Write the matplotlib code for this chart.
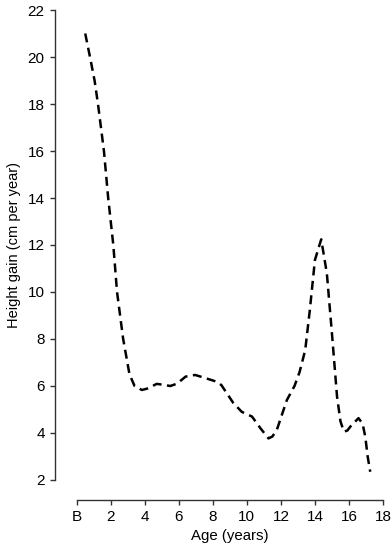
import matplotlib
matplotlib.use("Agg")
import matplotlib.pyplot as plt

plt.rcParams['font.family'] = ['Liberation Sans', 'DejaVu Sans']

# Height velocity curve
age = [0.5, 0.78, 1.05, 1.25, 1.6, 1.85, 2.15, 2.37, 2.73, 3.1, 3.4, 3.83,
       4.2, 4.7, 5.1, 5.5, 5.9, 6.4, 6.96, 7.5, 8.24, 8.5, 9.2, 9.7, 10.3,
       10.8, 11.27, 11.5, 11.76, 12.35, 12.8, 13.1, 13.43, 13.7, 14.0, 14.37,
       14.7, 15.0, 15.3, 15.5, 15.7, 15.9, 16.08, 16.56, 16.8, 16.96, 17.1, 17.25]
gain = [21.0, 20.0, 19.0, 18.0, 16.0, 14.0, 12.0, 10.0, 8.0, 6.5, 6.0, 5.83,
        5.9, 6.09, 6.05, 6.0, 6.1, 6.4, 6.47, 6.35, 6.18, 6.04, 5.28, 4.9, 4.7,
        4.2, 3.77, 3.85, 4.13, 5.4, 6.0, 6.6, 7.53, 9.23, 11.36, 12.24,
        10.8, 8.24, 5.55, 4.5, 4.06, 4.1, 4.27, 4.63, 4.4, 3.84, 3.0, 2.35]

xticks = list(range(0, 19, 2))
xticklabels = ["B"] + [str(v) for v in xticks[1:]]
yticks = list(range(2, 23, 2))

fig = plt.figure(figsize=(3.92, 5.5), dpi=100)
ax = fig.add_axes([0.1957, 0.1273, 0.7813, 0.8545])

ax.plot(age, gain, color="black", lw=1.8, dashes=(3.6, 2.2))

ax.set_xlim(0, 18)
ax.set_ylim(2, 22)
ax.set_xticks(xticks)
ax.set_xticklabels(xticklabels)
ax.set_yticks(yticks)

for side in ("top", "right"):
    ax.spines[side].set_visible(False)
ax.spines["left"].set_position(("outward", 15.6))
ax.spines["bottom"].set_position(("outward", 14.4))
for side in ("left", "bottom"):
    ax.spines[side].set_color("#333333")
    ax.spines[side].set_linewidth(1.0)

ax.tick_params(axis="both", labelsize=11, length=3.5, width=1.0,
               color="#333333", pad=4)
ax.set_xlabel("Age (years)", fontsize=10.8, labelpad=3)
ax.set_ylabel("Height gain (cm per year)", fontsize=10.5, labelpad=5)

fig.savefig("out.png", dpi=100)
